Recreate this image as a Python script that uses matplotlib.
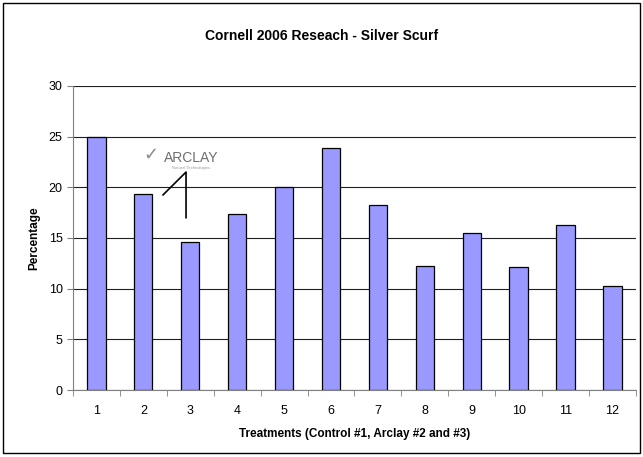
import matplotlib.pyplot as plt
from matplotlib.patches import Rectangle

plt.rcParams['font.family'] = ['Liberation Sans', 'DejaVu Sans']

treatments = ['1', '2', '3', '4', '5', '6', '7', '8', '9', '10', '11', '12']
percentage = [25.0, 19.3, 14.6, 17.4, 20.0, 23.9, 18.3, 12.2, 15.5, 12.1, 16.3, 10.3]
y_ticks = [0, 5, 10, 15, 20, 25, 30]

fig = plt.figure(figsize=(6.43, 4.57), dpi=100)
ax = fig.add_axes([0.1135, 0.1466, 0.8755, 0.6654])

# outer chart border
fig.patches.append(Rectangle((0.005, 0.008), 0.99, 0.985, transform=fig.transFigure,
                             fill=False, edgecolor='black', linewidth=1.0))

pos = list(range(1, len(treatments) + 1))
ax.bar(pos, percentage, width=0.39, color='#9999ff', edgecolor='black', linewidth=0.9, zorder=3)

ax.set_xlim(0.5, 12.5)
ax.set_ylim(0, 30)
ax.set_yticks(y_ticks)
ax.set_xticks(pos)
ax.set_xticklabels(treatments)
ax.set_xticks([p + 0.5 for p in [0] + pos], minor=True)
ax.tick_params(axis='x', which='major', length=0, pad=11, labelsize=9)
ax.tick_params(axis='x', which='minor', length=4, direction='out', color='#808080')
ax.tick_params(axis='y', length=4, direction='out', color='#808080', labelsize=9)

ax.grid(axis='y', color='#202020', linewidth=0.8, zorder=0)
for s in ['top', 'right']:
    ax.spines[s].set_visible(False)
ax.spines['left'].set_color('#808080')
ax.spines['bottom'].set_color('#808080')
ax.axhline(30, color='#e8e8e8', linewidth=1.0, zorder=1)

fig.text(0.5, 0.922, 'Cornell 2006 Reseach - Silver Scurf', ha='center', va='center',
         fontsize=10, fontweight='bold')
ax.set_xlabel('Treatments (Control #1, Arclay #2 and #3)', fontsize=8.5, fontweight='bold', labelpad=8)
ax.set_ylabel('Percentage', fontsize=8.5, fontweight='bold', labelpad=6)

# Arclay logo and callout
ax.text(2.15, 23.2, '\u2713', fontsize=13, color='#8a8a8a', ha='center', va='center', zorder=5)
ax.text(3.02, 22.9, 'ARCLAY', fontsize=10, color='#6e6e6e', ha='center', va='center', zorder=5)
ax.text(3.02, 21.9, 'Natural Technologies', fontsize=3, color='#9a9a9a', ha='center', va='center', zorder=5)
ax.plot([2.42, 2.91, 2.91], [19.25, 21.5, 17.0], color='black', linewidth=1.2, zorder=5)

fig.savefig('out.png', dpi=100)
